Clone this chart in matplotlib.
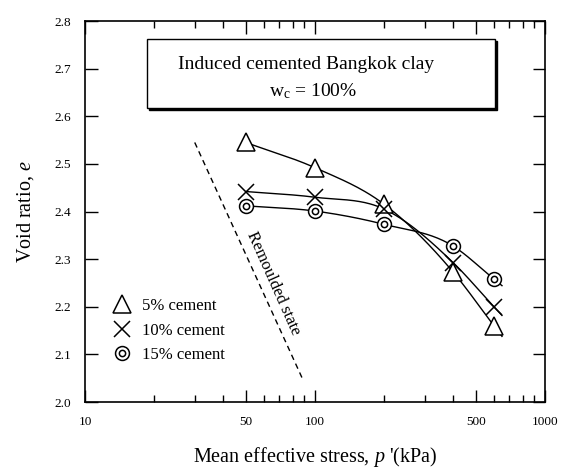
import numpy as np
import matplotlib
matplotlib.use("Agg")
import matplotlib.pyplot as plt
from matplotlib.lines import Line2D
from matplotlib.legend_handler import HandlerTuple
from matplotlib.patches import Rectangle
from matplotlib.ticker import FixedLocator, NullFormatter

plt.rcParams['font.family'] = ['Liberation Serif', 'DejaVu Serif']
plt.rcParams['mathtext.fontset'] = 'custom'
plt.rcParams['mathtext.rm'] = 'Liberation Serif'
plt.rcParams['mathtext.it'] = 'Liberation Serif:italic'

# data
stress = [50, 100, 200, 400, 600]
e_5 = [2.545, 2.492, 2.415, 2.272, 2.160]
e_10 = [2.442, 2.430, 2.405, 2.292, 2.200]
e_15 = [2.412, 2.401, 2.373, 2.327, 2.258]

remoulded_p = [30, 88]
remoulded_e = [2.545, 2.05]

x_major = [10, 50, 100, 500, 1000]
x_minor = [20, 30, 40, 60, 70, 80, 90, 200, 300, 400, 600, 700, 800, 900]
y_ticks = [2.0, 2.1, 2.2, 2.3, 2.4, 2.5, 2.6, 2.7, 2.8]

fig = plt.figure(figsize=(5.61, 4.73), dpi=100)
ax = fig.add_axes([0.1515, 0.150, 0.82, 0.8056])
ax.set_xscale('log')
ax.set_xlim(10, 1000)
ax.set_ylim(2.0, 2.8)


def smooth(p, e, p_end=650, n=40):
    # cubic hermite curve through the points, in log-x
    lx = np.log10(p)
    e = np.asarray(e, float)
    m = np.gradient(e, lx)
    xs, ys = [], []
    for i in range(len(lx) - 1):
        h = lx[i + 1] - lx[i]
        t = np.linspace(0, 1, n)
        h00 = 2 * t**3 - 3 * t**2 + 1
        h10 = t**3 - 2 * t**2 + t
        h01 = -2 * t**3 + 3 * t**2
        h11 = t**3 - t**2
        xs.append(lx[i] + t * h)
        ys.append(h00 * e[i] + h10 * h * m[i] + h01 * e[i + 1] + h11 * h * m[i + 1])
    # short tail past the last point
    tail = np.linspace(lx[-1], np.log10(p_end), 5)
    xs.append(tail)
    ys.append(e[-1] + m[-1] * (tail - lx[-1]))
    return 10 ** np.concatenate(xs), np.concatenate(ys)


lw = 1.0
for e in (e_5, e_10, e_15):
    xs, ys = smooth(stress, e)
    ax.plot(xs, ys, color='black', lw=lw, zorder=2)

ax.plot(stress, e_5, ls='none', marker='^', ms=13, mfc='white', mec='black',
        mew=1.1, zorder=3)
ax.plot(stress, e_10, ls='none', marker='x', ms=12, mec='black', mew=1.1,
        zorder=3)
ax.plot(stress, e_15, ls='none', marker='o', ms=10, mfc='white', mec='black',
        mew=1.1, zorder=4)
ax.plot(stress, e_15, ls='none', marker='o', ms=4.5, mfc='white', mec='black',
        mew=1.1, zorder=4)

ax.plot(remoulded_p, remoulded_e, color='black', ls=(0, (4, 3)), lw=1.0)
ax.text(66, 2.25, 'Remoulded state', rotation=-66, rotation_mode='anchor',
        ha='center', va='center', fontsize=12)

# title box with shadow
shadow = Rectangle((0.139, 0.766), 0.756, 0.181, transform=ax.transAxes,
                   facecolor='black', edgecolor='black', zorder=5)
box = Rectangle((0.135, 0.772), 0.756, 0.181, transform=ax.transAxes,
                facecolor='white', edgecolor='black', lw=1.0, zorder=6)
ax.add_patch(shadow)
ax.add_patch(box)
ax.text(0.48, 0.885, 'Induced cemented Bangkok clay', transform=ax.transAxes,
        ha='center', va='center', fontsize=14, zorder=7)
ax.text(0.496, 0.817, r'w$_{\mathrm{c}}$ = 100%', transform=ax.transAxes,
        ha='center', va='center', fontsize=14, zorder=7)

# legend
h5 = Line2D([], [], ls='none', marker='^', ms=13, mfc='white', mec='black', mew=1.1)
h10 = Line2D([], [], ls='none', marker='x', ms=12, mec='black', mew=1.1)
h15a = Line2D([], [], ls='none', marker='o', ms=10, mfc='white', mec='black', mew=1.1)
h15b = Line2D([], [], ls='none', marker='o', ms=4.5, mfc='white', mec='black', mew=1.1)
leg = ax.legend([h5, h10, (h15a, h15b)], ['5% cement', '10% cement', '15% cement'],
                handler_map={tuple: HandlerTuple(ndivide=1, pad=0)},
                loc='upper left', bbox_to_anchor=(0.045, 0.29), frameon=False,
                fontsize=12, handlelength=1.2, handletextpad=0.6,
                labelspacing=0.5, borderaxespad=0)

# ticks
ax.xaxis.set_major_locator(FixedLocator(x_major))
ax.xaxis.set_minor_locator(FixedLocator(x_minor))
ax.xaxis.set_minor_formatter(NullFormatter())
ax.set_xticklabels([str(v) for v in x_major])
ax.set_yticks(y_ticks)
ax.set_yticklabels(['%.1f' % v for v in y_ticks])
ax.tick_params(which='both', direction='in', top=True, right=True,
               labelsize=9.5, width=1.0)
ax.tick_params(which='major', length=9, pad=10)
ax.tick_params(which='minor', length=5)
for s in ax.spines.values():
    s.set_linewidth(1.2)

ax.set_ylabel('Void ratio, $e$', fontsize=14.5, labelpad=13)
ax.set_xlabel("Mean effective stress, $p$ '(kPa)", fontsize=14.5, labelpad=12)

fig.savefig('out.png', dpi=100, facecolor='white')
